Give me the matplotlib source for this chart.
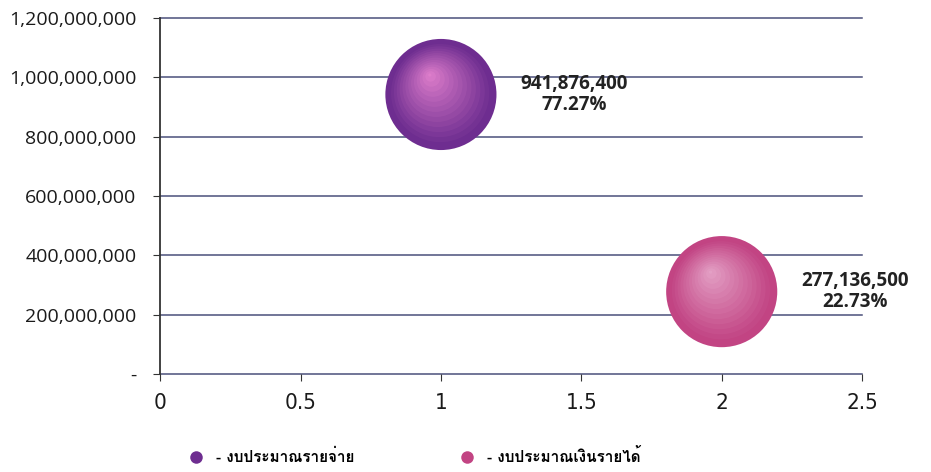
import matplotlib
matplotlib.use("Agg")
import matplotlib.pyplot as plt
from matplotlib import font_manager, ft2font
from matplotlib.transforms import offset_copy
import matplotlib.ticker as mticker
import matplotlib.colors as mc
from matplotlib.lines import Line2D

# ---- data ----
x_vals = [1, 2]
y_vals = [941876400, 277136500]
pcts = ["77.27%", "22.73%"]
series_names = ["- งบประมาณรายจ่าย", "- งบประมาณเงินรายได้"]
base_colors = ["#6e2d90", "#c24483"]
light_colors = ["#e080cc", "#e4a2c6"]
y_ticks = [0, 200000000, 400000000, 600000000, 800000000, 1000000000, 1200000000]
x_ticks = [0, 0.5, 1, 1.5, 2, 2.5]

# find a font with Thai glyphs
thai_font = None
for f in font_manager.fontManager.ttflist:
    try:
        cm = ft2font.FT2Font(f.fname).get_charmap()
        if ord("ง") in cm:
            thai_font = f.name
            break
    except Exception:
        pass
thai_family = [thai_font, "DejaVu Sans"] if thai_font else ["DejaVu Sans"]

fig = plt.figure(figsize=(9.31, 4.72), dpi=100)
ax = fig.add_axes([0.172, 0.208, 0.754, 0.754])

ax.set_xlim(0, 2.5)
ax.set_ylim(0, 1200000000)
ax.set_yticks(y_ticks)
ax.set_xticks(x_ticks)

def yfmt(v, p):
    return "-" if v == 0 else f"{int(v):,}"
ax.yaxis.set_major_formatter(mticker.FuncFormatter(yfmt))
ax.xaxis.set_major_formatter(mticker.FuncFormatter(lambda v, p: f"{v:g}"))

for yt in y_ticks:
    ax.axhline(yt, color="#4a4f7a", lw=1.1, zorder=1, clip_on=False)

for s in ["top", "right", "bottom"]:
    ax.spines[s].set_visible(False)
ax.spines["left"].set_color("#333333")
ax.spines["left"].set_linewidth(1.3)

ax.tick_params(axis="y", length=5, color="#333333", labelsize=14, pad=12, labelcolor="#1a1a1a")
ax.tick_params(axis="x", length=5, color="#333333", labelsize=16, pad=9, labelcolor="#1a1a1a")
for lbl in ax.get_yticklabels():
    lbl.set_family(["Open Sans", "DejaVu Sans"])
for lbl in ax.get_xticklabels():
    lbl.set_family(["DejaVu Sans"])
    lbl.set_stretch("condensed")

S = 6400
for i in range(len(x_vals)):
    ax.scatter([x_vals[i]], [y_vals[i]], s=S, color=base_colors[i], zorder=3,
               edgecolors="none")
    n = 14
    c0 = mc.to_rgb(base_colors[i]); c1 = mc.to_rgb(light_colors[i])
    for k in range(1, n + 1):
        t = k / n
        col = tuple(a + (b - a) * t for a, b in zip(c0, c1))
        size = S * (1 - 0.97 * t) ** 2 * 0.9
        tr = offset_copy(ax.transData, fig=fig, x=-8 * t, y=14 * t, units="points")
        ax.scatter([x_vals[i]], [y_vals[i]], s=size, color=col, zorder=3 + k * 0.01,
                   edgecolors="none", transform=tr, alpha=0.85)
    ax.annotate(f"{y_vals[i]:,}\n{pcts[i]}", (x_vals[i], y_vals[i]),
                xytext=(96, 0), textcoords="offset points", ha="center", va="center",
                fontsize=13.5, fontweight="bold", color="#222222",
                family=["Open Sans", "DejaVu Sans"], zorder=5, linespacing=1.1)

# legend
handles = [Line2D([], [], marker="o", ls="none", markersize=9,
                  markerfacecolor=base_colors[i], markeredgecolor="none") for i in range(2)]
leg = fig.legend(handles, series_names, loc="lower left", bbox_to_anchor=(0.179, -0.015),
                 ncol=2, frameon=False, prop={"family": thai_family, "size": 11, "weight": "bold"},
                 columnspacing=6.4, handletextpad=0.3)

fig.savefig("out.png", dpi=100)
